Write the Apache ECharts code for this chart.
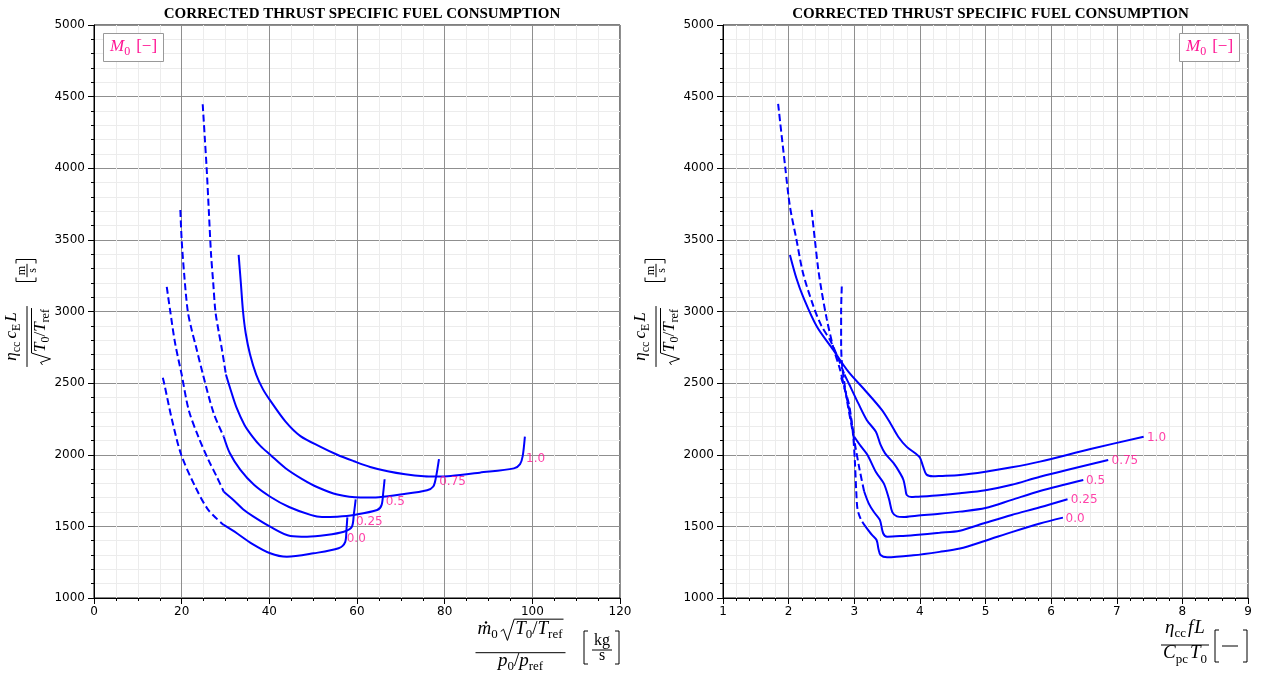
<!DOCTYPE html>
<html><head><meta charset="utf-8">
<script src="https://cdn.jsdelivr.net/npm/echarts@6/dist/echarts.min.js"></script>
<style>html,body{margin:0;padding:0;background:#fff}#c{width:1262px;height:677px}</style>
</head><body><div id="c"></div>
<script>
// ---------------- DATA ----------------
const M0_LABELS = ['0.0', '0.25', '0.5', '0.75', '1.0'];
const TITLE = 'CORRECTED THRUST SPECIFIC FUEL CONSUMPTION';

// Left panel: corrected mass flow vs corrected TSFC
const L_dash_00 = [[15.7,2538],[16.0,2500],[17.8,2243],[19.9,2000],[23.1,1777],[26.1,1614],[29.6,1510]];
const L_solid_00 = [[29.6,1510],[32.6,1452],[36.0,1380],[40.2,1312],[44.0,1288],[50.1,1312],[55.8,1347],[57.3,1390],[57.6,1480],[57.8,1563]];
const L_dash_025 = [[16.6,3172],[17.4,3000],[18.5,2779],[20.0,2560],[21.6,2313],[23.8,2126],[26.1,1964],[28.0,1847],[29.6,1742]];
const L_solid_025 = [[29.6,1742],[31.8,1684],[34.0,1620],[36.4,1568],[40.2,1498],[44.8,1433],[48.6,1428],[53.0,1440],[57.0,1463],[58.8,1495],[59.3,1590],[59.7,1689]];
const L_dash_05 = [[19.7,3709],[20.0,3500],[20.6,3250],[21.4,3000],[22.3,2870],[23.3,2750],[24.9,2555],[27.3,2290],[29.6,2126]];
const L_solid_05 = [[29.6,2126],[31.0,2010],[33.4,1894],[36.5,1790],[40.2,1707],[44.5,1635],[49.4,1580],[52.0,1565],[55.5,1568],[59.3,1580],[64.6,1614],[65.6,1648],[66.0,1740],[66.3,1829]];
const L_dash_075 = [[24.8,4447],[25.3,4200],[25.7,4000],[26.2,3700],[26.7,3400],[27.2,3200],[27.7,3000],[28.5,2850],[29.2,2732],[30.1,2560]];
const L_solid_075 = [[30.1,2560],[31.2,2450],[32.5,2330],[34.3,2210],[36.2,2125],[38.0,2060],[40.2,2000],[43.7,1906],[47.5,1830],[51.0,1773],[55.5,1722],[60.8,1701],[65.0,1704],[69.9,1722],[76.0,1752],[77.4,1778],[78.0,1840],[78.7,1969]];
const L_solid_10 = [[33.0,3395],[33.5,3200],[34.0,3000],[34.6,2850],[35.6,2700],[37.0,2560],[38.5,2460],[40.1,2383],[43.7,2231],[47.1,2130],[51.7,2055],[55.5,2000],[59.3,1955],[63.0,1915],[67.0,1885],[71.0,1864],[75.3,1850],[78.0,1848],[81.4,1852],[88.0,1875],[95.8,1905],[97.2,1935],[97.8,1990],[98.3,2126]];
const L_label_pos = [[57.2,1410],[59.3,1533],[66.1,1672],[78.3,1812],[98.1,1969]];

// Right panel: fuel parameter vs corrected TSFC
const R_dash_00 = [[2.80,2540],[2.92,2350],[2.98,2150],[3.01,1950],[3.03,1750],[3.05,1620],[3.10,1550],[3.17,1500]];
const R_solid_00 = [[3.17,1500],[3.27,1440],[3.34,1405],[3.37,1340],[3.40,1300],[3.50,1284],[3.90,1298],[4.30,1322],[4.61,1345],[5.00,1400],[5.40,1460],[5.83,1520],[6.18,1561]];
const R_dash_025 = [[2.81,3174],[2.80,3000],[2.80,2800],[2.81,2650],[2.85,2500],[2.90,2350],[2.96,2200],[3.02,2050],[3.08,1900],[3.15,1745]];
const R_solid_025 = [[3.15,1745],[3.22,1661],[3.30,1600],[3.39,1545],[3.44,1452],[3.50,1428],[3.70,1432],[3.93,1440],[4.30,1455],[4.61,1470],[5.00,1525],[5.40,1580],[5.83,1633],[6.25,1689]];
const R_dash_05 = [[2.35,3709],[2.40,3500],[2.45,3300],[2.50,3150],[2.58,2950],[2.68,2750],[2.78,2600],[2.86,2450],[2.93,2300],[3.00,2126]];
const R_solid_05 = [[3.00,2126],[3.10,2060],[3.20,2000],[3.33,1880],[3.45,1800],[3.53,1690],[3.58,1600],[3.65,1570],[3.75,1565],[3.95,1575],[4.30,1588],[4.61,1603],[5.00,1628],[5.40,1685],[5.83,1747],[6.49,1824]];
const R_dash_075 = [[1.84,4450],[1.95,4000],[2.02,3733],[2.12,3500],[2.22,3267],[2.38,3034],[2.50,2900],[2.63,2802],[2.75,2680],[2.85,2560]];
const R_solid_075 = [[2.85,2560],[2.94,2476],[3.06,2360],[3.19,2243],[3.33,2160],[3.40,2070],[3.47,2010],[3.60,1941],[3.70,1870],[3.75,1824],[3.78,1760],[3.80,1719],[3.87,1705],[3.95,1707],[4.30,1718],[4.61,1731],[5.00,1752],[5.40,1790],[5.83,1847],[6.87,1964]];
const R_solid_10 = [[2.02,3395],[2.12,3230],[2.22,3104],[2.43,2895],[2.68,2732],[2.91,2580],[3.16,2452],[3.42,2313],[3.55,2220],[3.67,2126],[3.80,2055],[3.93,2010],[4.00,1980],[4.05,1917],[4.10,1862],[4.20,1850],[4.31,1852],[4.61,1859],[5.00,1882],[5.40,1912],[5.83,1952],[6.60,2040],[7.41,2126]];
const R_label_pos = [[6.19,1552],[6.27,1684],[6.50,1817],[6.89,1959],[7.43,2115]];

const Y_TICKS = {min:1000, max:5000, step:500};
const XL_TICKS = {min:0, max:120, step:20};
const XR_TICKS = {min:1, max:9, step:1};

// ---------------- STYLE / HELPERS ----------------
const BLUE = '#0000ff', PINK = '#ff1493';
const chart = echarts.init(document.getElementById('c'), null, {renderer:'canvas'});

function line(data, gi, dashed){
  return {type:'line', xAxisIndex:gi, yAxisIndex:gi, data, symbol:'none', showSymbol:false,
    smooth:0.3, silent:true, z:3,
    lineStyle:{color:BLUE, width:2, type: dashed ? [7,3.5] : 'solid'}};
}
function labels(pos, gi){
  return {type:'scatter', xAxisIndex:gi, yAxisIndex:gi, symbolSize:0, silent:true, z:4,
    data: pos.map((p,i)=>({value:p, label:{formatter:M0_LABELS[i]}})),
    label:{show:true, position:'right', distance:2, color:PINK, fontFamily:'DejaVu Sans', fontSize:12}};
}
const common = {
  axisLine:{show:true, onZero:false, lineStyle:{color:'#000', width:1}},
  axisTick:{show:true, length:6, lineStyle:{color:'#000'}},
  splitLine:{show:true, lineStyle:{color:'#8f8f8f', width:1}},
  minorSplitLine:{show:true, lineStyle:{color:'#ececec', width:1}}
};
function xAxis(gi, t, minorSplit){
  return Object.assign({type:'value', gridIndex:gi, min:t.min, max:t.max, interval:t.step,
    minorTick:{show:true, splitNumber:minorSplit, length:3, lineStyle:{color:'#000'}},
    axisLabel:{color:'#000', fontFamily:'DejaVu Sans', fontSize:12, margin:8, formatter:v=>String(v)}}, common);
}
function yAxis(gi){
  return Object.assign({type:'value', gridIndex:gi, min:Y_TICKS.min, max:Y_TICKS.max, interval:Y_TICKS.step,
    minorTick:{show:true, splitNumber:5, length:3, lineStyle:{color:'#000'}},
    axisLabel:{color:'#000', fontFamily:'DejaVu Sans', fontSize:12, margin:9, formatter:v=>String(v)}}, common);
}

// ---- math-like text built from graphic elements ----
const MC = document.createElement('canvas').getContext('2d');
function styles(b){
  return { i:{size:b,it:1,dy:0}, r:{size:b,it:0,dy:0}, s:{size:Math.round(b*0.7),it:0,dy:b*0.3},
           u:{size:b,it:0,dy:0}, rad:b };
}
const S17 = styles(17), S19 = styles(19), S12 = styles(12), S16 = styles(16);
const T = (t,k,g)=>({t,k,g});
function tw(t, st){ MC.font = (st.it?'italic ':'') + st.size + 'px "Liberation Serif"'; return MC.measureText(t).width; }
function txt(t, x, y, st, color){
  return {type:'text', x, y, silent:true, style:{text:t, fill:color, fontSize:st.size,
    fontFamily:'Liberation Serif', fontStyle:st.it?'italic':'normal', align:'left', verticalAlign:'middle'}};
}
function radW(S){ return S.rad*0.76; }
function runW(tokens, S){
  let w = 0;
  for (const tk of tokens){ w += (tk.g||0); w += tk.sqrt ? radW(S) + 1 + runW(tk.sqrt, S) : tw(tk.t, S[tk.k]); }
  return w;
}
function run(tokens, x, yc, color, out, S){
  const k = S.rad/17;
  for (const tk of tokens){
    x += (tk.g||0);
    if (tk.sqrt){
      const w = runW(tk.sqrt, S), rw = radW(S);
      out.push({type:'polyline', silent:true, shape:{points:[[x,yc+2*k],[x+2.5*k,yc],[x+6*k,yc+10*k],[x+rw-1,yc-9*k],[x+rw+1+w,yc-9*k]]},
        style:{stroke:color, lineWidth:1, fill:null}});
      run(tk.sqrt, x+rw, yc, color, out, S);
      x += rw + 1 + w;
    } else {
      const st = S[tk.k];
      out.push(txt(tk.t, x, yc+st.dy, st, color));
      if (tk.dot) out.push({type:'circle', silent:true, shape:{cx:x+tw(tk.t,st)*0.62, cy:yc-6*k, r:1.2}, style:{fill:color}});
      x += tw(tk.t, st);
    }
  }
  return x;
}
const hasSqrt = tks => tks.some(t=>t.sqrt);
function frac(num, den, cx, bar, out, S, unit){
  const wn = runW(num, S), wd = runW(den, S), W = Math.max(wn, wd) + 4;
  const k = S.rad/17;
  out.push({type:'line', silent:true, shape:{x1:cx-W/2, y1:bar, x2:cx+W/2, y2:bar}, style:{stroke:'#000', lineWidth:1}});
  const ny = unit ? bar - unit[0] : bar - (15 + (hasSqrt(num)?6:0))*k;
  const dy = unit ? bar + unit[1] : bar + (7.5 + (hasSqrt(den)?6:0))*k;
  run(num, cx - wn/2, ny, '#000', out, S);
  run(den, cx - wd/2, dy, '#000', out, S);
}
function brackets(xl, xr, top, bot, out){
  out.push({type:'polyline', silent:true, shape:{points:[[xl+4,top],[xl,top],[xl,bot],[xl+4,bot]]}, style:{stroke:'#000', lineWidth:1, fill:null}});
  out.push({type:'polyline', silent:true, shape:{points:[[xr-4,top],[xr,top],[xr,bot],[xr-4,bot]]}, style:{stroke:'#000', lineWidth:1, fill:null}});
}

function yLabel(px, py){
  const ch = [];
  frac([T('η','i'),T('cc','s'),T('c','i',3),T('E','s'),T('L','i',2)],
       [{sqrt:[T('T','i'),T('0','s'),T('/','r'),T('T','i'),T('ref','s')]}], -25, 0, ch, S17);
  frac([T('m','u')],[T('s','u')], 41, 0, ch, S12, [5.5,5.5]);
  brackets(30, 52, -11, 9, ch);
  return {type:'group', x:px, y:py, rotation:Math.PI/2, children:ch, silent:true};
}
function xLabelLeft(){
  const ch = [];
  frac([Object.assign(T('m','i'),{dot:true}), T('0','s'), Object.assign({sqrt:[T('T','i'),T('0','s'),T('/','r'),T('T','i'),T('ref','s')]},{g:3})],
       [T('p','i'),T('0','s'),T('/','r'),T('p','i'),T('ref','s')], 520.5, 652.7, ch, S19);
  frac([T('kg','u')],[T('s','u')], 602, 650, ch, S16, [9.5,6]);
  brackets(584, 619, 631, 664, ch);
  return {type:'group', children:ch, silent:true};
}
function xLabelRight(){
  const ch = [];
  frac([T('η','i'),T('cc','s'),T('f','i',2),T('L','i',1)],
       [T('C','i'),T('pc','s'),T('T','i',2),T('0','s')], 1185, 645, ch, S19);
  ch.push({type:'line', silent:true, shape:{x1:1222, y1:646, x2:1238, y2:646}, style:{stroke:'#000', lineWidth:1}});
  brackets(1215, 1247, 630, 662, ch);
  return {type:'group', children:ch, silent:true};
}
function legendBox(x){
  const ch = [];
  ch.push({type:'rect', silent:true, shape:{x:x+0.5, y:33.5, width:60, height:28}, style:{fill:'#fff', stroke:'#999', lineWidth:1}, z:10});
  const items = [];
  run([T('M','i'),T('0','s'),T('[−]','r',6)], x+7, 47, PINK, items, S17);
  items.forEach(e=>{ e.z = 11; ch.push(e); });
  return {type:'group', children:ch, silent:true};
}

const option = {
  animation:false,
  backgroundColor:'#fff',
  title:[
    {text:TITLE, left:357, top:2, textAlign:'center', textStyle:{fontFamily:'Liberation Serif', fontWeight:'bold', fontSize:15, color:'#000'}},
    {text:TITLE, left:985.5, top:2, textAlign:'center', textStyle:{fontFamily:'Liberation Serif', fontWeight:'bold', fontSize:15, color:'#000'}}
  ],
  grid:[
    {left:94, top:25, width:526, height:573, show:true, borderColor:'#000', borderWidth:1, backgroundColor:'transparent', containLabel:false},
    {left:723, top:25, width:525, height:573, show:true, borderColor:'#000', borderWidth:1, backgroundColor:'transparent', containLabel:false}
  ],
  xAxis:[xAxis(0, XL_TICKS, 4), xAxis(1, XR_TICKS, 5)],
  yAxis:[yAxis(0), yAxis(1)],
  series:[
    line(L_dash_00,0,true), line(L_solid_00,0,false),
    line(L_dash_025,0,true), line(L_solid_025,0,false),
    line(L_dash_05,0,true), line(L_solid_05,0,false),
    line(L_dash_075,0,true), line(L_solid_075,0,false),
    line(L_solid_10,0,false),
    labels(L_label_pos,0),
    line(R_dash_00,1,true), line(R_solid_00,1,false),
    line(R_dash_025,1,true), line(R_solid_025,1,false),
    line(R_dash_05,1,true), line(R_solid_05,1,false),
    line(R_dash_075,1,true), line(R_solid_075,1,false),
    line(R_solid_10,1,false),
    labels(R_label_pos,1)
  ],
  graphic:{elements:[yLabel(27, 311.5), yLabel(656, 311.5), xLabelLeft(), xLabelRight(), legendBox(103), legendBox(1179)]}
};
chart.setOption(option);
</script></body></html>
